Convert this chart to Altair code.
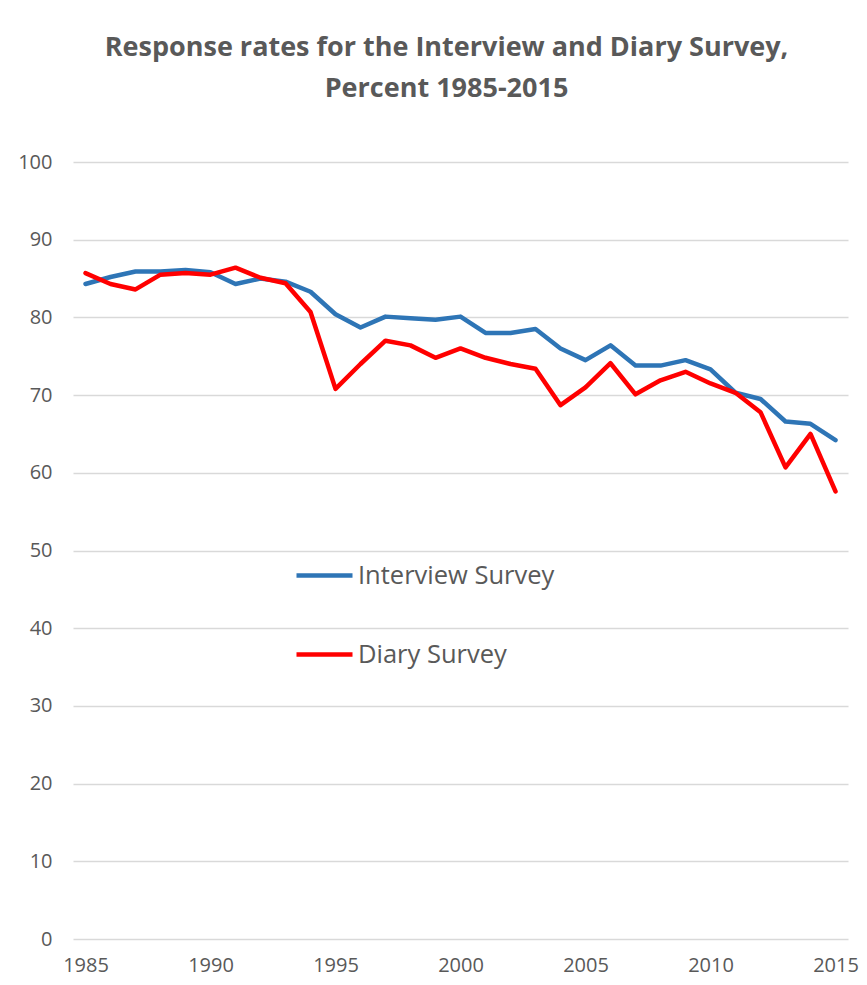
import altair as alt
import pandas as pd

years = list(range(1985, 2016))
interview = [84.3, 85.2, 85.9, 85.9, 86.1, 85.8, 84.3, 85.0, 84.6, 83.3,
             80.4, 78.7, 80.1, 79.9, 79.7, 80.1, 78.0, 78.0, 78.5, 76.0,
             74.5, 76.4, 73.8, 73.8, 74.5, 73.3, 70.3, 69.5, 66.6, 66.3, 64.2]
diary = [85.7, 84.3, 83.6, 85.5, 85.7, 85.5, 86.4, 85.1, 84.4, 80.7,
         70.8, 74.0, 77.0, 76.4, 74.8, 76.0, 74.8, 74.0, 73.4, 68.7,
         71.0, 74.1, 70.1, 71.9, 73.0, 71.5, 70.3, 67.8, 60.7, 65.0, 57.6]
series_names = ["Interview Survey", "Diary Survey"]
series_colors = ["#2E75B6", "#FF0000"]
x_ticks = [1985, 1990, 1995, 2000, 2005, 2010, 2015]
y_ticks = [0, 10, 20, 30, 40, 50, 60, 70, 80, 90, 100]
title_lines = ["Response rates for the Interview and Diary Survey,",
               "Percent 1985-2015"]

rows = []
for name, vals in zip(series_names, [interview, diary]):
    for yr, v in zip(years, vals):
        rows.append({"year": yr, "rate": v, "series": name,
                     "order": series_names.index(name)})
df = pd.DataFrame(rows)

GRAY = "#595959"
FONT = "Open Sans"

chart = alt.Chart(df).mark_line(strokeWidth=4.5, strokeCap="round", strokeJoin="round").encode(
    x=alt.X("year:Q",
            scale=alt.Scale(domain=[1984.5, 2015.5], nice=False, zero=False),
            axis=alt.Axis(values=x_ticks, format="d", title=None, grid=False,
                          domain=False, ticks=False, labelPadding=16,
                          labelFontSize=20, labelColor=GRAY, labelFont=FONT)),
    y=alt.Y("rate:Q",
            scale=alt.Scale(domain=[0, 100], nice=False),
            axis=alt.Axis(values=y_ticks, title=None, domain=False, ticks=False,
                          labelPadding=21, labelFontSize=20, labelColor=GRAY,
                          labelFont=FONT, gridColor="#D9D9D9", gridWidth=1.3)),
    color=alt.Color("series:N",
                    scale=alt.Scale(domain=series_names, range=series_colors),
                    legend=alt.Legend(title=None, orient="none", legendX=221,
                                      legendY=383, symbolType="stroke",
                                      symbolSize=3136, symbolStrokeWidth=4.5,
                                      labelFontSize=25.5, labelFont=FONT,
                                      labelColor=GRAY, labelOffset=3,
                                      labelLimit=500, rowPadding=35)),
    order=alt.Order("order:Q"),
    detail="series:N",
).properties(
    width=775,
    height=777,
    title=alt.TitleParams(text=title_lines, fontSize=27, font=FONT,
                          fontWeight="bold", color=GRAY, anchor="middle",
                          dx=-14, offset=49, lineHeight=41),
    autosize=alt.AutoSizeParams(type="none"),
    padding={"left": 65, "top": 154, "right": 11, "bottom": 38},
).configure_view(stroke=None)

chart.save("out.html", embed_options={"renderer": "svg", "actions": False})
